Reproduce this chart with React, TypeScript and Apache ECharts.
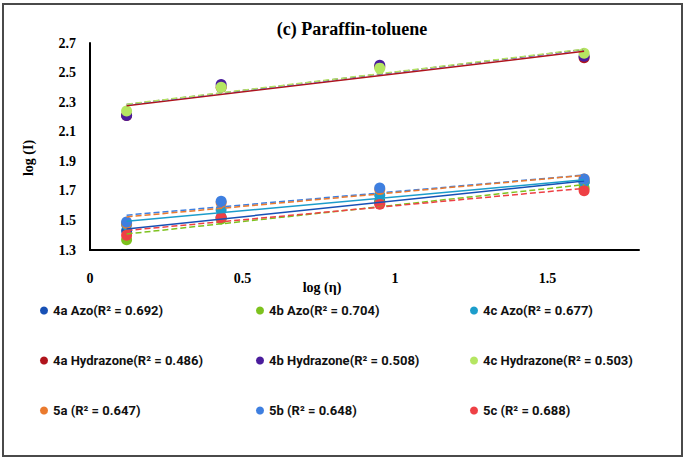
import React, { useEffect, useRef } from "react";
import * as echarts from "echarts";

const xValues = [0.12, 0.43, 0.95, 1.62];

const seriesNames = [
  "4a Azo(R² = 0.692)",
  "4b Azo(R² = 0.704)",
  "4c Azo(R² = 0.677)",
  "4a Hydrazone(R² = 0.486)",
  "4b Hydrazone(R² = 0.508)",
  "4c Hydrazone(R² = 0.503)",
  "5a (R² = 0.647)",
  "5b (R² = 0.648)",
  "5c (R² = 0.688)",
];

const azo4a = [1.43, 1.52, 1.63, 1.76];
const azo4b = [1.37, 1.51, 1.62, 1.72];
const azo4c = [1.47, 1.57, 1.67, 1.76];
const hyd4a = [2.21, 2.4, 2.54, 2.6];
const hyd4b = [2.21, 2.42, 2.55, 2.61];
const hyd4c = [2.24, 2.4, 2.53, 2.63];
const s5a = [1.48, 1.62, 1.71, 1.78];
const s5b = [1.49, 1.63, 1.72, 1.78];
const s5c = [1.4, 1.52, 1.61, 1.7];

const seriesValues = [azo4a, azo4b, azo4c, hyd4a, hyd4b, hyd4c, s5a, s5b, s5c];

const colors = [
  "#1750B5",
  "#7DC21E",
  "#1C9DCB",
  "#B0141C",
  "#4A1C9C",
  "#B5E662",
  "#EA7A2E",
  "#3E7FE0",
  "#EE4045",
];
const trendTypes = ["solid", "dashed", "solid", "solid", "dashed", "dashed", "dashed", "dashed", "dashed"];
// drawing order of the trendlines (last one on top)
const trendOrder = [7, 0, 2, 1, 8, 3, 4, 5, 6];

const yTickLabels = ["1.3", "1.5", "1.7", "1.9", "2.1", "2.3", "2.5", "2.7"];
const xTickLabels = ["0", "0.5", "1", "1.5"];

function fitLine(xs: number[], ys: number[]) {
  const n = xs.length;
  const mx = xs.reduce((a, b) => a + b, 0) / n;
  const my = ys.reduce((a, b) => a + b, 0) / n;
  let sxy = 0;
  let sxx = 0;
  for (let i = 0; i < n; i++) {
    sxy += (xs[i] - mx) * (ys[i] - my);
    sxx += (xs[i] - mx) * (xs[i] - mx);
  }
  const b = sxy / sxx;
  const a = my - b * mx;
  return [
    [xs[0], a + b * xs[0]],
    [xs[n - 1], a + b * xs[n - 1]],
  ];
}

const serif = "'Liberation Serif', 'Times New Roman', serif";
const legendFont = "Roboto, 'Noto Sans', sans-serif";

export default function App() {
  const ref = useRef<HTMLDivElement>(null);

  useEffect(() => {
    if (!ref.current) return;
    const chart = echarts.init(ref.current, undefined, { renderer: "svg" });

    const scatterSeries = seriesNames.map((name, i) => ({
      name,
      type: "scatter",
      data: xValues.map((x, j) => [x, seriesValues[i][j]]),
      symbol: "circle",
      symbolSize: 11,
      itemStyle: { color: colors[i], opacity: 1 },
      z: 2,
    }));
    const trendSeries = trendOrder.map((i) => ({
      name: seriesNames[i] + " trend",
      type: "line",
      data: fitLine(xValues, seriesValues[i]),
      symbol: "none",
      silent: true,
      lineStyle: { color: colors[i], width: 1.5, type: trendTypes[i] },
      z: 3,
    }));

    const legendCols = [
      [seriesNames[0], seriesNames[3], seriesNames[6]],
      [seriesNames[1], seriesNames[4], seriesNames[7]],
      [seriesNames[2], seriesNames[5], seriesNames[8]],
    ];
    const legendLefts = [40, 256, 470];

    chart.setOption({
      animation: false,
      backgroundColor: "#ffffff",
      title: {
        text: "(c) Paraffin-toluene",
        left: 347,
        top: 15,
        textAlign: "center",
        textStyle: { fontFamily: serif, fontWeight: "bold", fontSize: 18, color: "#000" },
      },
      grid: { left: 90, right: 46, top: 43, bottom: 210, containLabel: false },
      xAxis: {
        type: "value",
        min: 0,
        max: 1.8,
        interval: 0.5,
        axisLine: { show: true, lineStyle: { color: "#000", width: 2 } },
        axisTick: { show: false },
        splitLine: { show: false },
        axisLabel: {
          margin: 21,
          showMaxLabel: false,
          fontFamily: serif,
          fontWeight: "bold",
          fontSize: 14,
          color: "#000",
          formatter: (v: number) => {
            const idx = Math.round(v / 0.5);
            return Math.abs(v - idx * 0.5) < 1e-6 && idx < xTickLabels.length ? xTickLabels[idx] : "";
          },
        },
      },
      yAxis: {
        type: "value",
        min: 1.3,
        max: 2.7,
        interval: 0.1,
        axisLine: { show: true, lineStyle: { color: "#000", width: 2 } },
        axisTick: { show: false },
        splitLine: { show: false },
        axisLabel: {
          margin: 14,
          fontFamily: serif,
          fontWeight: "bold",
          fontSize: 14,
          color: "#000",
          formatter: (v: number) => {
            const k = (v - 1.3) / 0.2;
            const idx = Math.round(k);
            return Math.abs(k - idx) < 1e-4 && idx >= 0 && idx < yTickLabels.length ? yTickLabels[idx] : "";
          },
        },
      },
      legend: legendCols.map((col, c) => ({
        data: col,
        orient: "vertical",
        left: legendLefts[c],
        top: 304,
        itemGap: 37,
        itemWidth: 8,
        itemHeight: 8,
        icon: "circle",
        selectedMode: false,
        padding: 0,
        textStyle: { fontFamily: legendFont, fontWeight: "bold", fontSize: 13, color: "#111" },
      })),
      graphic: [
        {
          type: "rect",
          shape: { x: 3, y: 4, width: 679, height: 452 },
          style: { fill: "none", stroke: "#4a4a4a", lineWidth: 2 },
          silent: true,
        },
        {
          type: "text",
          x: 322,
          y: 287,
          style: {
            text: "log (η)",
            fontFamily: serif,
            fontWeight: "bold",
            fontSize: 14,
            fill: "#000",
            textAlign: "center",
            textVerticalAlign: "middle",
          },
        },
        {
          type: "text",
          x: 28,
          y: 158,
          rotation: Math.PI / 2,
          style: {
            text: "log (I)",
            fontFamily: serif,
            fontWeight: "bold",
            fontSize: 14,
            fill: "#000",
            textAlign: "center",
            textVerticalAlign: "middle",
          },
        },
      ],
      series: [...scatterSeries, ...trendSeries],
    });

    return () => {
      chart.dispose();
    };
  }, []);

  return (
    <div
      ref={ref}
      style={{ position: "fixed", left: 0, top: 0, width: 685, height: 460, background: "#fff" }}
    />
  );
}
